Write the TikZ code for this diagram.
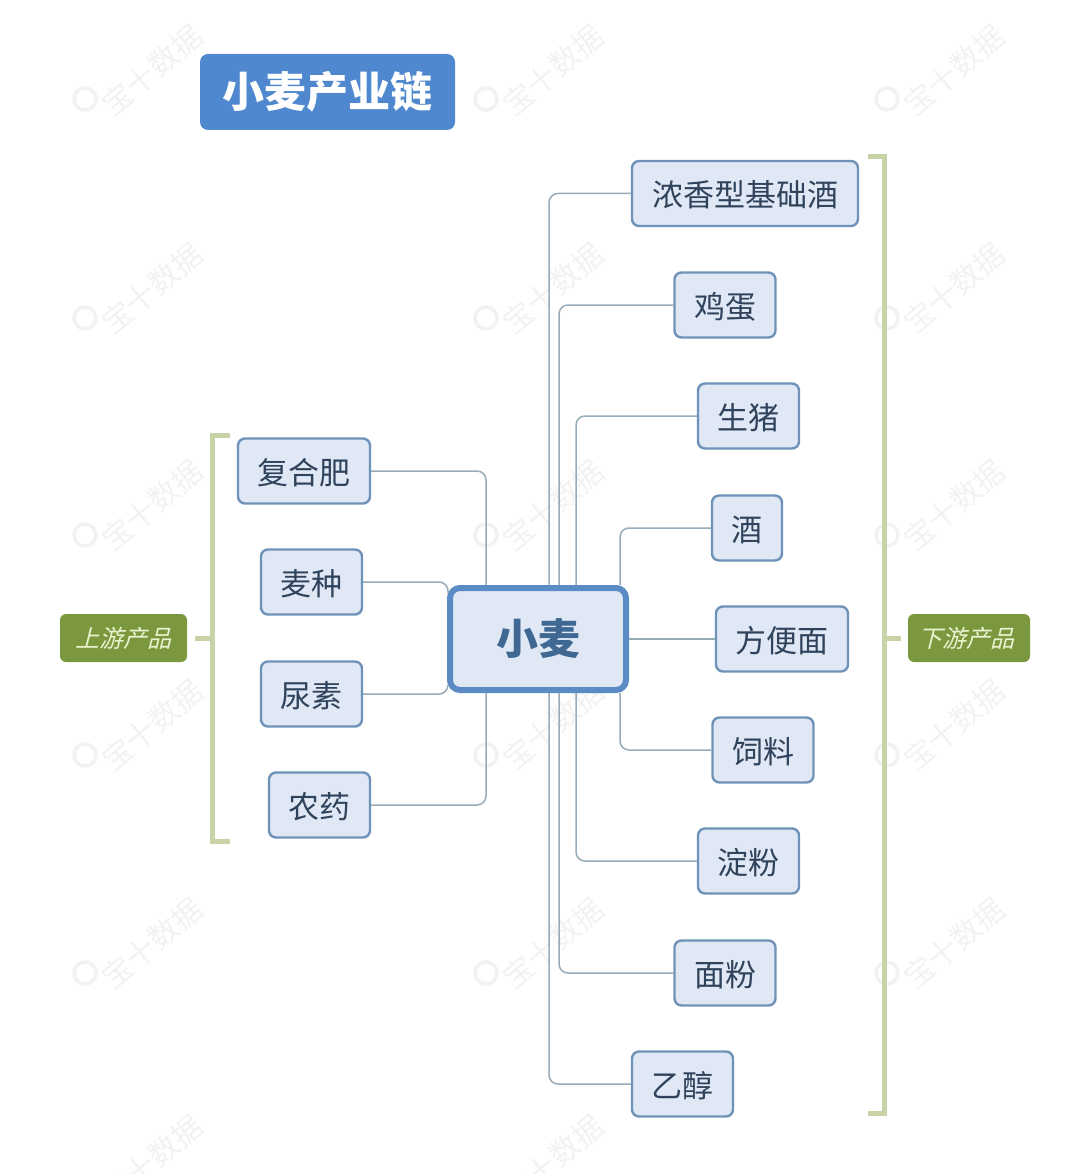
\documentclass[tikz,border=0pt]{standalone}
\usepackage{fontspec}
\usepackage{xcolor}
\setmainfont{Noto Sans CJK SC}
\definecolor{boxfill}{HTML}{DFE8F4}
\definecolor{boxedge}{HTML}{6F93B8}
\definecolor{boxtext}{HTML}{2F435C}
\definecolor{mainedge}{HTML}{5A8BC4}
\definecolor{maintext}{HTML}{3F6893}
\definecolor{linkgray}{HTML}{98ABB9}
\definecolor{bracegreen}{HTML}{C8D3A8}
\definecolor{tagfill}{HTML}{7C983F}
\definecolor{tagtext}{HTML}{EAF3CF}
\definecolor{titlefill}{HTML}{4F88CE}
\definecolor{wmark}{HTML}{F2F2F2}
\tikzset{
	leaf/.style={draw=boxedge,fill=boxfill,line width=2.4pt,rounded corners=7pt,inner sep=0pt,minimum height=65pt,text height=27pt,text depth=0pt,text=boxtext,font=\fontsize{31}{31}\selectfont},
	hub/.style={draw=mainedge,fill=boxfill,line width=6pt,rounded corners=10pt,inner sep=0pt,minimum width=176pt,minimum height=102pt,text=maintext,font=\fontsize{42}{42}\selectfont\bfseries},
	titlebox/.style={fill=titlefill,rounded corners=8pt,inner sep=0pt,minimum width=255pt,minimum height=76pt,text=white,font=\fontsize{42}{42}\selectfont\bfseries},
	tag/.style={fill=tagfill,rounded corners=6pt,inner sep=0pt,minimum height=48pt,text=tagtext,font=\fontsize{24}{24}\selectfont},
	link/.style={draw=linkgray,line width=1.5pt,rounded corners=9pt},
	brace/.style={draw=bracegreen,line width=5pt},
	wtext/.style={text=wmark,rotate=40,inner sep=0pt,font=\fontsize{30}{30}\selectfont},
	wring/.style={draw=wmark,line width=3.5pt,circle,inner sep=0pt,minimum size=22pt}
}
\begin{document}
\begin{tikzpicture}[x=1pt,y=-1pt]
	\useasboundingbox (0,0) rectangle (1080,1174);
	% watermark, three columns
	\node[wring] (ringa) at (85,99) {};
	\node[wtext] (marka) at (152,70) {宝十数据};
	\node[wring] (ringb) at (486,99) {};
	\node[wtext] (markb) at (553,70) {宝十数据};
	\node[wring] (ringc) at (887,99) {};
	\node[wtext] (markc) at (954,70) {宝十数据};
	\node[wring] (ringd) at (85,318) {};
	\node[wtext] (markd) at (152,288) {宝十数据};
	\node[wring] (ringe) at (486,318) {};
	\node[wtext] (marke) at (553,288) {宝十数据};
	\node[wring] (ringf) at (887,318) {};
	\node[wtext] (markf) at (954,288) {宝十数据};
	\node[wring] (ringg) at (85,535) {};
	\node[wtext] (markg) at (152,505) {宝十数据};
	\node[wring] (ringh) at (486,535) {};
	\node[wtext] (markh) at (553,505) {宝十数据};
	\node[wring] (ringi) at (887,535) {};
	\node[wtext] (marki) at (954,505) {宝十数据};
	\node[wring] (ringj) at (85,755) {};
	\node[wtext] (markj) at (152,725) {宝十数据};
	\node[wring] (ringk) at (486,755) {};
	\node[wtext] (markk) at (553,725) {宝十数据};
	\node[wring] (ringl) at (887,755) {};
	\node[wtext] (markl) at (954,725) {宝十数据};
	\node[wring] (ringm) at (85,973) {};
	\node[wtext] (markm) at (152,943) {宝十数据};
	\node[wring] (ringn) at (486,973) {};
	\node[wtext] (markn) at (553,943) {宝十数据};
	\node[wring] (ringo) at (887,973) {};
	\node[wtext] (marko) at (954,943) {宝十数据};
	\node[wtext] (markp) at (152,1160) {宝十数据};
	\node[wtext] (markq) at (553,1160) {宝十数据};

	\node[titlebox] (title) at (327.5,92) {小麦产业链};

	% upstream
	\node[leaf,minimum width=132pt] (fhf) at (304,471) {复合肥};
	\node[leaf,minimum width=101pt] (mz) at (311.5,582) {麦种};
	\node[leaf,minimum width=101pt] (ns) at (311.5,694) {尿素};
	\node[leaf,minimum width=101pt] (ny) at (319.5,805) {农药};

	% downstream
	\node[leaf,minimum width=226pt] (nxj) at (745,193.5) {浓香型基础酒};
	\node[leaf,minimum width=101pt] (jd) at (725,305) {鸡蛋};
	\node[leaf,minimum width=101pt] (sz) at (748.5,416) {生猪};
	\node[leaf,minimum width=70pt] (jiu) at (747,528) {酒};
	\node[leaf,minimum width=132pt] (fbm) at (782,639) {方便面};
	\node[leaf,minimum width=101pt] (sl) at (763,750) {饲料};
	\node[leaf,minimum width=101pt] (df) at (748.5,861) {淀粉};
	\node[leaf,minimum width=101pt] (mf) at (725,973) {面粉};
	\node[leaf,minimum width=101pt] (yc) at (682.5,1084) {乙醇};

	\node[hub] (wheat) at (538,639) {小麦};

	\coordinate (mzend) at (448,593);
	\coordinate (nsend) at (448,685);
	\draw[link] (fhf.east) -| (486,0 |- wheat.north);
	\draw[link] (mz.east) -| (mzend);
	\draw[link] (ns.east) -| (nsend);
	\draw[link] (ny.east) -| (486,0 |- wheat.south);
	\draw[link] (nxj.west) -| (549,0 |- wheat.north);
	\draw[link] (jd.west) -| (559,0 |- wheat.north);
	\draw[link] (sz.west) -| (576,0 |- wheat.north);
	\draw[link] (jiu.west) -| (620,0 |- wheat.north);
	\draw[link] (fbm.west) -- (wheat.east);
	\draw[link] (sl.west) -| (620,0 |- wheat.south);
	\draw[link] (df.west) -| (576,0 |- wheat.south);
	\draw[link] (mf.west) -| (559,0 |- wheat.south);
	\draw[link] (yc.west) -| (549,0 |- wheat.south);

	% brackets
	\node[tag,minimum width=127pt] (uptag) at (123.5,638) {\addfontfeature{FakeSlant=0.25}上游产品};
	\node[tag,minimum width=122pt] (downtag) at (969,638) {\hspace{-5pt}\addfontfeature{FakeSlant=0.25}下游产品};
	\coordinate (upend) at (212,638);
	\coordinate (downend) at (884,638);
	\draw[brace] (230,435) -- (212,435) -- (212,841) -- (230,841);
	\draw[brace] (uptag.east) ++(8,0) -- (upend);
	\draw[brace] (868,157) -- (884,157) -- (884,1113) -- (868,1113);
	\draw[brace] (downend) -- ++(17,0);
\end{tikzpicture}
\end{document}
